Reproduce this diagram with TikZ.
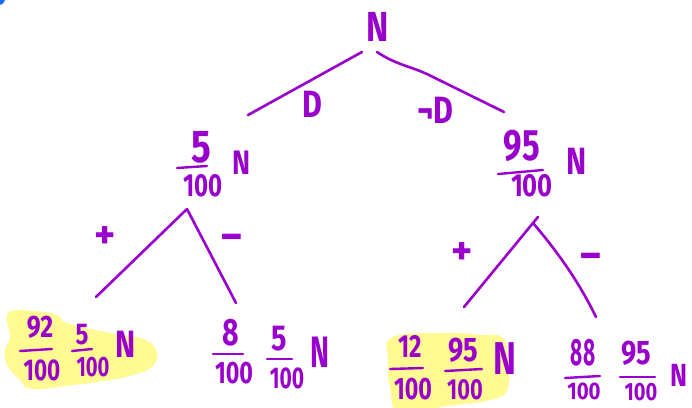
\documentclass[tikz,border=0pt]{standalone}
\usepackage{fontspec}
\setmainfont{Fira Sans}
\usepackage{graphicx}
\definecolor{pur}{RGB}{153,0,204}
\definecolor{hl}{RGB}{255,250,145}
\definecolor{blu}{RGB}{20,110,255}
\newcommand\hw[3]{{\fontsize{#1}{#1}\selectfont\bfseries\scalebox{#2}[1]{#3}}}
\begin{document}
\begin{tikzpicture}[x=1pt,y=-1pt,
  edge/.style={draw=pur, line width=2.6pt, line cap=round, line join=round},
  bar/.style={edge, line width=2.4pt},
  lbl/.style={text=pur, inner sep=0pt, anchor=center}]
\useasboundingbox (0,0) rectangle (692,407);
\clip (0,0) rectangle (692,407);
\fill[white] (0,0) rectangle (692,407);
\fill[blu] (-1,-1) circle (6);
% highlights
\fill[hl] plot[smooth cycle, tension=0.7] coordinates {(8,313) (33,311) (57,315) (67,323) (110,333) (143,339) (157,352) (152,367) (133,375) (110,380) (73,385) (33,389) (20,380) (7,365) (5,350) (10,337)};
\fill[hl] plot[smooth cycle, tension=0.7] coordinates {(393,337) (447,333) (480,335) (503,338) (508,363) (507,390) (490,400) (447,406) (400,412) (390,387) (388,360)};
% root
\node[lbl] (root) at (378,27) {\hw{42}{0.8}{N}};
\coordinate (rL) at (362,52);
\coordinate (rR) at (377,52);
\coordinate (dL) at (248,115);
\coordinate (dR) at (504,112);
\draw[edge] (rL) -- (dL);
\draw[edge] (rR) .. controls (398,66) and (412,66) .. (433,77) -- (dR);
\node[lbl] (D) at (312,104) {\hw{38}{0.8}{D}};
\node[lbl] (nD) at (435,110) {\hw{38}{0.8}{¬D}};
% mid left
\node[lbl] (a5) at (201,147) {\hw{46}{0.8}{5}};
\draw[bar] (177,168) -- (207,166);
\node[lbl] (a100) at (203,186) {\hw{32}{0.75}{100}};
\node[lbl] (aN) at (242,163) {\hw{34}{0.8}{N}};
% mid right
\node[lbl] (b95) at (522,146) {\hw{44}{0.75}{95}};
\draw[bar] (498,174) -- (543,170);
\node[lbl] (b100) at (532,186) {\hw{32}{0.8}{100}};
\node[lbl] (bN) at (577,161) {\hw{38}{0.8}{N}};
% left subtree
\coordinate (la) at (187,209);
\coordinate (lp) at (96,297);
\coordinate (lm) at (236,303);
\draw[edge] (la) -- (lp);
\draw[edge] (la) -- (lm);
\node[lbl] (lplus) at (105,238) {\hw{40}{1}{+}};
\node[lbl] (lminus) at (232,243) {\hw{44}{1}{−}};
% right subtree
\coordinate (ra) at (533,223);
\coordinate (rt) at (538,217);
\coordinate (rp) at (464,307);
\coordinate (rm) at (596,317);
\draw[edge] (rt) -- (ra) -- (rp);
\draw[edge] (ra) .. controls (556,250) and (578,280) .. (rm);
\node[lbl] (rplus) at (462,254) {\hw{40}{1}{+}};
\node[lbl] (rminus) at (591,262) {\hw{44}{1}{−}};
% leaf 1
\node[lbl] (c1n) at (40,327) {\hw{31}{0.8}{92}};
\draw[bar] (20,351) -- (52,349);
\node[lbl] (c1d) at (42,370) {\hw{30}{0.75}{100}};
\node[lbl] (c1n2) at (82,335) {\hw{30}{0.8}{5}};
\draw[bar] (72,351) -- (92,349);
\node[lbl] (c1d2) at (93,367) {\hw{28}{0.72}{100}};
\node[lbl] (c1N) at (126,344) {\hw{38}{0.8}{N}};
% leaf 2
\node[lbl] (c2n) at (231,333) {\hw{38}{0.75}{8}};
\draw[bar] (213,354) -- (243,354);
\node[lbl] (c2d) at (234,373) {\hw{31}{0.75}{100}};
\node[lbl] (c2n2) at (279,339) {\hw{36}{0.8}{5}};
\draw[bar] (267,359) -- (292,359);
\node[lbl] (c2d2) at (287,378) {\hw{30}{0.7}{100}};
\node[lbl] (c2N) at (320,352) {\hw{44}{0.65}{N}};
% leaf 3
\node[lbl] (c3n) at (410,346) {\hw{32}{0.75}{12}};
\draw[bar] (390,369) -- (423,368);
\node[lbl] (c3d) at (413,389) {\hw{31}{0.75}{100}};
\node[lbl] (c3n2) at (463,350) {\hw{34}{0.8}{95}};
\draw[bar] (445,371) -- (482,369);
\node[lbl] (c3d2) at (465,390) {\hw{29}{0.75}{100}};
\node[lbl] (c3N) at (505,359) {\hw{46}{0.75}{N}};
% leaf 4
\node[lbl] (c4n) at (583,353) {\hw{38}{0.55}{88}};
\draw[bar] (565,378) -- (600,376);
\node[lbl] (c4d) at (584,391) {\hw{24}{0.85}{100}};
\node[lbl] (c4n2) at (636,353) {\hw{34}{0.8}{95}};
\draw[bar] (620,377) -- (655,377);
\node[lbl] (c4d2) at (641,392) {\hw{25}{0.8}{100}};
\node[lbl] (c4N) at (679,375) {\hw{32}{0.8}{N}};
\end{tikzpicture}
\end{document}
